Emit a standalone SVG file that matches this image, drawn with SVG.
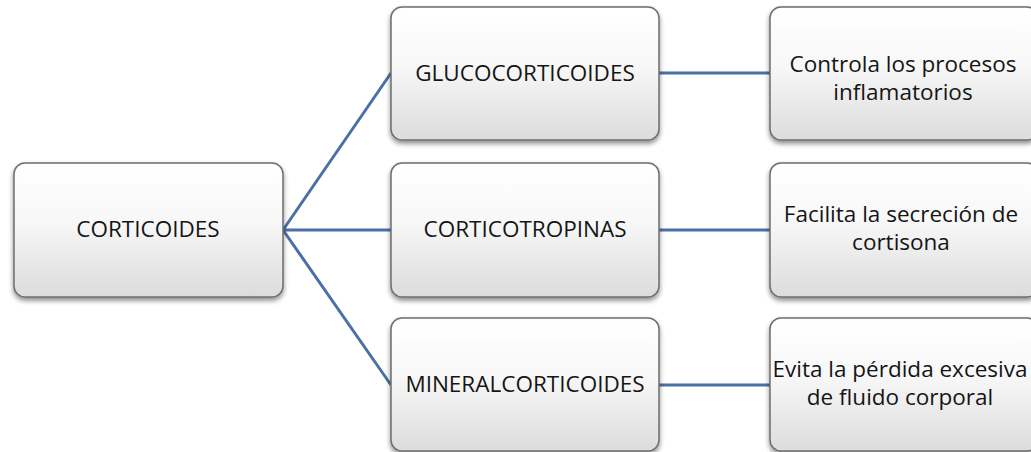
<svg xmlns="http://www.w3.org/2000/svg" width="1031" height="452" viewBox="0 0 1031 452">
<defs>
<linearGradient id="g" x1="0" y1="0" x2="0" y2="1">
<stop offset="0" stop-color="#ffffff"/>
<stop offset="0.45" stop-color="#f7f7f7"/>
<stop offset="1" stop-color="#dcdcdc"/>
</linearGradient>
<linearGradient id="bev" x1="0" y1="0" x2="0" y2="1">
<stop offset="0" stop-color="#ffffff" stop-opacity="0.9"/>
<stop offset="1" stop-color="#ffffff" stop-opacity="0"/>
</linearGradient>
<filter id="sh" x="-10%" y="-10%" width="120%" height="130%">
<feGaussianBlur in="SourceAlpha" stdDeviation="2.5"/>
<feOffset dx="0" dy="3" result="b"/>
<feComponentTransfer><feFuncA type="linear" slope="0.45"/></feComponentTransfer>
<feMerge><feMergeNode/><feMergeNode in="SourceGraphic"/></feMerge>
</filter>
</defs>
<style>
.box{fill:url(#g);stroke:#6e6e6e;stroke-width:1.5;filter:url(#sh)}
.hl{fill:url(#bev);stroke:none}
.t{font-family:"Open Sans","Liberation Sans",sans-serif;font-size:22.5px;fill:#151515;text-anchor:middle}
.c{stroke:#4a70a5;stroke-width:3;fill:none}
</style>
<rect width="1031" height="452" fill="#ffffff"/>
<g id="connectors">
<path class="c" d="M283,230 L391,73"/>
<path class="c" d="M283,230 L391,230"/>
<path class="c" d="M283,230 L391,385"/>
<path class="c" d="M659,73 L770,73"/>
<path class="c" d="M659,230 L770,230"/>
<path class="c" d="M659,385 L770,385"/>
</g>
<g id="n-corticoides">
<rect class="box" x="14" y="163" width="269" height="134" rx="11"/>
<rect class="hl" x="20" y="166" width="257" height="24" rx="8"/>
<text class="t" x="148" y="237">CORTICOIDES</text>
</g>
<g id="n-gluco">
<rect class="box" x="391" y="7" width="268" height="133" rx="11"/>
<rect class="hl" x="397" y="10" width="256" height="24" rx="8"/>
<text class="t" x="525" y="81">GLUCOCORTICOIDES</text>
</g>
<g id="n-cortico">
<rect class="box" x="391" y="163" width="268" height="134" rx="11"/>
<rect class="hl" x="397" y="166" width="256" height="24" rx="8"/>
<text class="t" x="525" y="237">CORTICOTROPINAS</text>
</g>
<g id="n-mineral">
<rect class="box" x="391" y="318" width="268" height="133" rx="11"/>
<rect class="hl" x="397" y="321" width="256" height="24" rx="8"/>
<text class="t" x="525" y="392">MINERALCORTICOIDES</text>
</g>
<g id="n-controla">
<rect class="box" x="770" y="7" width="268" height="133" rx="11"/>
<rect class="hl" x="776" y="10" width="256" height="24" rx="8"/>
<text class="t" x="903" y="72">Controla los procesos</text>
<text class="t" x="903" y="100">inflamatorios</text>
</g>
<g id="n-facilita">
<rect class="box" x="770" y="163" width="268" height="134" rx="11"/>
<rect class="hl" x="776" y="166" width="256" height="24" rx="8"/>
<text class="t" x="901" y="222">Facilita la secreción de</text>
<text class="t" x="901" y="250">cortisona</text>
</g>
<g id="n-evita">
<rect class="box" x="770" y="318" width="268" height="133" rx="11"/>
<rect class="hl" x="776" y="321" width="256" height="24" rx="8"/>
<text class="t" x="900" y="377">Evita la pérdida excesiva</text>
<text class="t" x="900" y="405">de fluido corporal</text>
</g>
</svg>
